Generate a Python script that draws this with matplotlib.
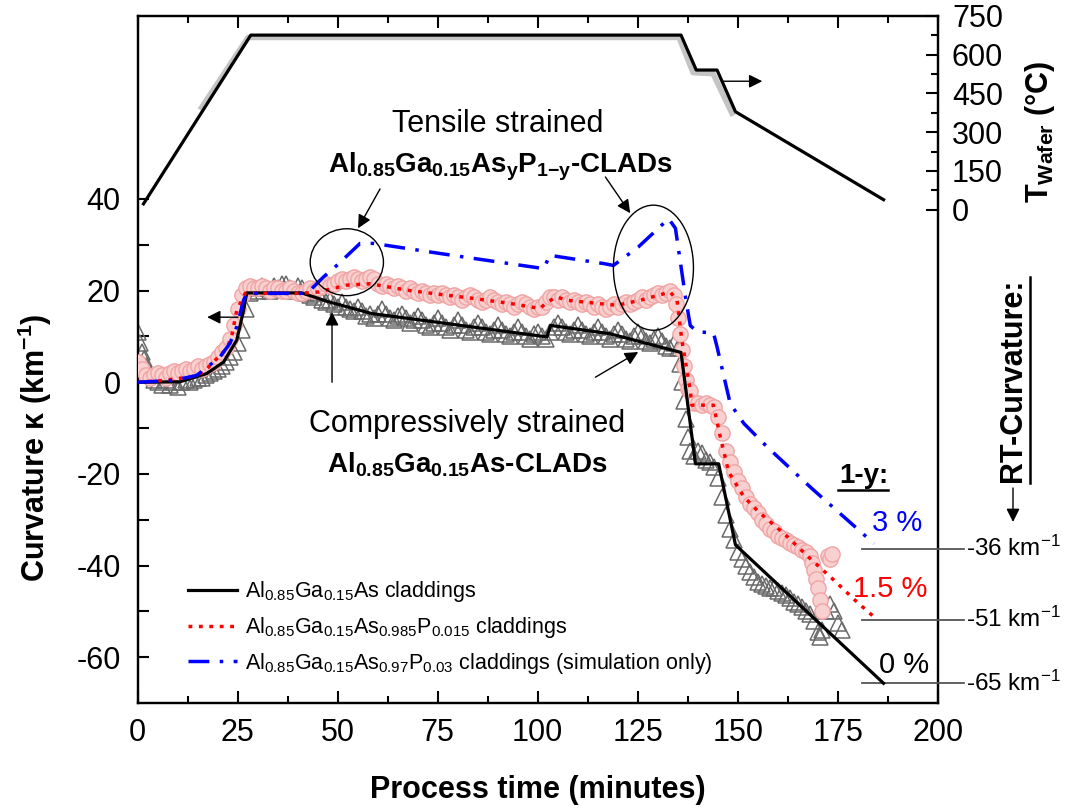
import matplotlib
matplotlib.use('Agg')
import matplotlib.pyplot as plt
from matplotlib.patches import Ellipse
from matplotlib.lines import Line2D
from matplotlib.ticker import MultipleLocator, FixedLocator

plt.rcParams['font.family'] = ['Liberation Sans', 'DejaVu Sans']
plt.rcParams['mathtext.fontset'] = 'custom'
plt.rcParams['mathtext.rm'] = 'Liberation Sans'
plt.rcParams['mathtext.default'] = 'regular'
plt.rcParams['axes.unicode_minus'] = False

# Wafer temperature (right axis): setpoint and measured
temp_t = [1.5, 28.3, 135.8, 139.6, 144.8, 149.4, 186.4]
temp_T = [23, 675, 675, 540, 540, 379, 39]
temp_meas_t = [16, 27.6, 135.3, 138.8, 143.8, 148.5]
temp_meas_T = [395, 666, 666, 530, 526, 373]

# Curvature model, Al0.85Ga0.15As claddings (black)
black_t = [0, 10.6, 17.3, 21.5, 24.8, 26.5, 27.3, 41, 48, 58.5, 102.3, 103.2,
           118, 135.8, 139.4, 145.2, 149.4, 186.4]
black_k = [0, 0.1, 1.9, 4.4, 9.2, 15.7, 19.5, 19.5, 17.5, 15, 9.9, 12.4,
           10.6, 6.5, -17.8, -17.8, -35.5, -65.7]

# Curvature model, 1.5 % P (red dotted)
red_t = [0, 6.5, 13.5, 16.5, 22.3, 23.5, 24.8, 26.9, 40.6, 45.2, 48.5, 52.3, 58.1,
         67.3, 77.3, 83.9, 93.1, 100.6, 102.3, 104.8, 107.3, 113.9, 119.8, 125.6,
         133.1, 134.8, 136, 138.1, 138.5, 143.9, 145.6, 147.7, 151.5, 155.2, 161.5,
         168.1, 174, 179.8, 184]
red_k = [0, 0.4, 1.2, 2.2, 7.4, 9.9, 15.7, 19.4, 19.4, 19.7, 20.4, 21.2, 21.5,
         20.1, 19, 18.3, 17.2, 16.1, 17.5, 18.6, 17.9, 17.3, 16.8, 17.9,
         19.7, 17.9, 9.2, -1.7, -5, -5, -11.9, -19.6, -25, -28.3, -33,
         -38.5, -43.2, -48, -51.2]

# Curvature simulation, 3 % P (blue dash-dot)
blue_t = [0, 9, 14.8, 20.6, 23.1, 24.8, 26.5, 27.3, 41, 43.5, 46.5, 49.8, 55.6, 59,
          75.6, 101.5, 103, 116.5, 118.9, 125.1, 132.7, 134.4, 136.9, 138.1, 139.8,
          143.9, 144.8, 148.1, 151.5, 157.3, 168.5, 184]
blue_k = [0, 0.4, 1.5, 5.5, 8.5, 12.1, 17.9, 19.4, 19.4, 20.4, 23, 25.5, 30.3, 30.3,
          28.1, 24.8, 27.7, 25.9, 25.5, 29.5, 35.7, 33.6, 18.6, 12.4, 11,
          10.8, 7.7, -4.7, -9, -14.1, -23.2, -35.2]

# Measured curvature, AlGaAs claddings (gray triangles)
gray_t = [0, 0.5, 1, 1.5, 2, 3, 4, 5, 6, 7, 8, 9, 10, 11, 12, 13, 14, 15, 16, 17,
          18, 19, 20, 21, 22, 23, 24, 25, 26, 27, 28, 29, 30, 31, 32, 33, 34, 35,
          36, 37, 38, 39, 40, 41, 42, 43, 44, 45, 46, 47, 48, 49, 50, 51, 52, 53,
          54, 55, 56, 57, 58, 59, 60, 61, 62, 63, 64, 65, 66, 67, 68, 69, 70, 71,
          72, 73, 74, 75, 76, 77, 78, 79, 80, 81, 82, 83, 84, 85, 86, 87, 88, 89,
          90, 91, 92, 93, 94, 95, 96, 97, 98, 99, 100, 101, 102, 103, 104, 105,
          106, 107, 108, 109, 110, 111, 112, 113, 114, 115, 116, 117, 118, 119,
          120, 121, 122, 123, 124, 125, 126, 127, 128, 129, 130, 131, 132, 133,
          134, 135, 135.5, 136, 136.5, 137, 137.5, 138, 139, 140, 141, 142, 143,
          144, 145, 146, 147, 148, 149, 150, 151, 152, 153, 154, 155, 156, 157,
          158, 159, 160, 161, 162, 163, 164, 165, 166, 167, 168, 169, 170, 170.5,
          171, 172, 173, 174, 175, 176]
gray_k = [11, 8.5, 6.5, 5, 3.5, 2, 0.5, 0, -0.5, 0.5, -0.5, 0, -1, 0, 0.5, 0, 0.5,
          1, 1, 1.5, 2, 2.5, 3, 3.5, 4.5, 5.5, 6.5, 8.5, 11.5, 16, 19.5, 20.5, 20,
          21, 20.5, 20, 21, 20.5, 21.5, 21.5, 20.5, 20, 21, 20.5, 19.5, 19, 18.5,
          19.5, 18, 17.5, 18, 17, 16.5, 17.5, 16.5, 16, 15.5, 16.5, 15.5, 14.5, 15,
          14, 15, 16, 15, 14, 13.5, 14.5, 15, 14, 13, 13.5, 14.5, 13.5, 12.5, 12,
          13, 14, 13, 12, 11.5, 12.5, 13.5, 12.5, 11.5, 11, 12, 13, 12, 11, 10.5,
          11.5, 12.5, 11.5, 10.5, 10, 11, 12, 11, 10, 9.5, 10.5, 11, 10, 9.5, 11,
          12, 13, 12, 11, 10.5, 11.5, 12.5, 11.5, 10.5, 10, 11, 12, 11, 10, 9.5,
          10.5, 11.5, 10.5, 9.5, 9, 10, 11, 10, 9, 8.5, 9.5, 10, 9, 8, 7.5, 8.5,
          7.5, 4, 0, -4, -8, -12, -15, -16, -15, -15.5, -17, -17.5, -18.5, -21,
          -25, -29, -32, -34.5, -37, -38.5, -40, -41.5, -42.5, -43.5, -44, -44.5,
          -45, -45, -45.5, -46, -46.5, -47, -48, -48.5, -49, -50, -50.5, -52,
          -54.5, -55.5, -54, -50, -48.5, -50, -52.5, -54]

# Measured curvature, AlGaAsP claddings (pink circles)
pink_t = [0, 1, 2, 3, 4, 5, 6, 7, 8, 9, 10, 11, 12, 13, 14, 15, 16, 17, 18, 19,
          20, 21, 22, 23, 24, 25, 26, 27, 28, 29, 30, 31, 32, 33, 34, 35, 36, 37,
          38, 39, 40, 41, 42, 43, 44, 45, 46, 47, 48, 49, 50, 51, 52, 53, 54, 55,
          56, 57, 58, 59, 60, 61, 62, 63, 64, 65, 66, 67, 68, 69, 70, 71, 72, 73,
          74, 75, 76, 77, 78, 79, 80, 81, 82, 83, 84, 85, 86, 87, 88, 89, 90, 91,
          92, 93, 94, 95, 96, 97, 98, 99, 100, 101, 102, 103, 104, 105, 106, 107,
          108, 109, 110, 111, 112, 113, 114, 115, 116, 117, 118, 119, 120, 121,
          122, 123, 124, 125, 126, 127, 128, 129, 130, 131, 132, 133, 134, 134.5,
          135, 135.5, 136, 136.5, 137, 137.5, 138, 139, 140, 141, 142, 143, 144,
          145, 146, 147, 148, 149, 150, 151, 152, 153, 154, 155, 156, 157, 158,
          159, 160, 161, 162, 163, 164, 165, 166, 167, 168, 168.5, 169, 169.5,
          170, 170.5, 171, 172.5, 173, 173.5]
pink_k = [4.5, 3, 1.5, 1, 1.5, 2, 1.5, 1, 2, 2.5, 2, 2.5, 3, 2.5, 3, 3.5, 3, 3.5,
          4, 4.5, 5.5, 6.5, 7.5, 9.5, 12.5, 16, 19, 20.5, 21, 20.5, 20.5, 21,
          20.5, 20, 20.5, 20.5, 20, 20, 20.5, 20, 19.5, 19.5, 20, 20.5, 20, 20.5,
          21, 21.5, 21, 21.5, 22, 22.5, 22, 22.5, 23, 22.5, 22, 22.5, 23, 22.5,
          21.5, 21, 21.5, 21, 20.5, 21, 20.5, 20, 20.5, 20, 19.5, 20, 19.5, 19,
          19.5, 19, 19.5, 19, 18.5, 19, 18.5, 18, 18.5, 19, 18.5, 18, 17.5, 18,
          18.5, 18, 17.5, 17, 17.5, 17, 16.5, 17, 17.5, 17, 16.5, 16, 16.5, 16.5,
          17.5, 18.5, 18.5, 18, 18.5, 18, 17.5, 18, 17.5, 17, 17.5, 17, 16.5, 17,
          16.5, 16, 16.5, 17, 16.5, 17, 17.5, 17, 17.5, 18, 18.5, 18, 18.5, 19,
          19.5, 19, 19.5, 20, 19, 17, 14, 10.5, 7, 3.5, 0.5, -1.5, -2, -4.5, -4.5,
          -5, -4.5, -5, -5.5, -7.5, -11, -15, -17.5, -19.5, -21.5, -23, -25,
          -26.5, -27.5, -28.5, -30, -31, -32, -32.5, -33.5, -34, -34.5, -35,
          -35.5, -36, -36.5, -37, -38, -39.5, -41, -43, -45, -47.5, -50, -38,
          -38.5, -37.5]

# Room-temperature curvature markers
rt_pos = [-36.3, -51.8, -65.6]
rt_labels = ['-36 km$^{-1}$', '-51 km$^{-1}$', '-65 km$^{-1}$']
pct_labels = ['3 %', '1.5 %', '0 %']
pct_colors = ['#0000ff', '#ff0000', 'black']
pct_pos = [(189.9, -30.8), (188.1, -45.2), (191.6, -61.6)]

W, H = 1066, 808
fig = plt.figure(figsize=(W / 100, H / 100), dpi=100)
ax = fig.add_axes([137.5 / W, 1 - 703 / H, 800.5 / W, 687.3 / H])
ax2 = ax.twinx()

ax.plot(gray_t, gray_k, ls='none', marker='^', ms=11, mfc='none', mec='#6a6a6a',
        mew=1.1, zorder=2)
ax.plot(pink_t, pink_k, ls='none', marker='o', ms=11, mfc='#f8d0d0', mec='#f0a4a4',
        mew=1.0, zorder=3)
l1, = ax.plot(black_t, black_k, color='black', lw=2.3, zorder=5)
l2, = ax.plot(red_t, red_k, color='#ff0000', lw=2.5, ls=(0, (1.1, 1.9)), zorder=6)
l3, = ax.plot(blue_t, blue_k, color='#0000ff', lw=2.5, ls=(0, (6, 3, 1, 3)), zorder=7)

ax2.plot(temp_meas_t, temp_meas_T, color='#c4c4c4', lw=4, zorder=1)
ax2.plot(temp_t, temp_T, color='black', lw=2.3, zorder=2)

ax.set_xlim(0, 200)
ax.set_ylim(-70, 80)
ax2.set_ylim(-1906, 750)

for a in (ax, ax2):
    for s in a.spines.values():
        s.set_linewidth(1.6)

ax.xaxis.set_major_locator(MultipleLocator(25))
ax.xaxis.set_minor_locator(MultipleLocator(12.5))
ax.yaxis.set_major_locator(FixedLocator([-60, -40, -20, 0, 20, 40]))
ax.yaxis.set_minor_locator(FixedLocator([-50, -30, -10, 10, 30]))
ax2.yaxis.set_major_locator(FixedLocator([0, 150, 300, 450, 600, 750]))
ax2.yaxis.set_minor_locator(FixedLocator([75, 225, 375, 525, 675]))

ax.tick_params(axis='x', which='both', direction='in', top=True, width=1.5)
ax.tick_params(axis='x', which='major', length=8.5, labelsize=22, pad=11)
ax.tick_params(axis='x', which='minor', length=5)
ax.tick_params(axis='y', which='both', direction='in', right=False, width=1.5,
               length=8)
ax.tick_params(axis='y', which='major', labelsize=22, pad=12)
ax2.tick_params(axis='y', which='both', direction='in', width=1.5)
ax2.tick_params(axis='y', which='major', length=8.5, labelsize=22, pad=10)
ax2.tick_params(axis='y', which='minor', length=5)

ax.set_zorder(ax2.get_zorder() + 1)
ax.patch.set_visible(False)

# axis labels
fig.text(537.75 / W, 1 - 790 / H, 'Process time (minutes)', fontsize=22,
         fontweight='bold', ha='center', va='center')
fig.text(35 / W, 1 - 448 / H, 'Curvature κ (km$^{-1}$)', fontsize=22,
         fontweight='bold', ha='center', va='center', rotation=90)
fig.text(1040 / W, 1 - 132 / H, 'T$_{Wafer}$ (°C)', fontsize=22,
         fontweight='bold', ha='center', va='center', rotation=90)

# annotations
ax.text(90.1, 56.4, 'Tensile strained', fontsize=22, ha='center', va='center')
ax.text(90.6, 47.0, 'Al$_{0.85}$Ga$_{0.15}$As$_{y}$P$_{1{-}y}$-CLADs', fontsize=20,
        fontweight='bold', ha='center', va='center')
ax.text(82.4, -9.2, 'Compressively strained', fontsize=22, ha='center', va='center')
ax.text(82.4, -18.1, 'Al$_{0.85}$Ga$_{0.15}$As-CLADs', fontsize=20,
        fontweight='bold', ha='center', va='center')

ax.add_patch(Ellipse((52.3, 26.2), 18.3, 14.6, fill=False, lw=1, color='black',
                     zorder=8))
ax.add_patch(Ellipse((128.9, 25.0), 20.0, 27.3, fill=False, lw=1, color='black',
                     zorder=8))

arrow = dict(arrowstyle='-|>', color='black', lw=1, mutation_scale=20,
             shrinkA=0, shrinkB=0)
arrows = [((55.1, 33.6), (60.6, 42.2)), ((123.1, 36.9), (116.9, 44.8)),
          ((48.6, 15.3), (48.6, 0)), ((125.1, 6.6), (114.4, 1.1)),
          ((17.4, 14.2), (25.1, 14.2)), ((156.1, 65.7), (146.4, 65.7))]
for tip, tail in arrows:
    ax.annotate('', xy=tip, xytext=tail, arrowprops=arrow, zorder=9)

ax.text(181.4, -20.4, '1-y:', fontsize=20, fontweight='bold', ha='center',
        va='center')
fig.add_artist(Line2D([838 / W, 888 / W], [1 - 490 / H, 1 - 490 / H],
                      color='black', lw=1.8))
for (px, py), lab, c in zip(pct_pos, pct_labels, pct_colors):
    ax.text(px, py, lab, fontsize=21, color=c, ha='center', va='center')

for yv, lab in zip(rt_pos, rt_labels):
    ax.plot([181, 206.4], [yv, yv], color='#555555', lw=1.3, clip_on=False,
            zorder=4)
    ax.text(206.9, yv, lab, fontsize=17.5, ha='left', va='center', clip_on=False)

fig.text(1013 / W, 1 - 380 / H, 'RT-Curvature:', fontsize=22, fontweight='bold',
         rotation=90, ha='center', va='center')
fig.add_artist(Line2D([1030 / W, 1030 / W], [1 - 277 / H, 1 - 483 / H],
                      color='black', lw=1.8))
ax.annotate('', xy=(1013 / W, 1 - 522 / H), xytext=(1013 / W, 1 - 488 / H),
            xycoords='figure fraction', textcoords='figure fraction',
            arrowprops=arrow)

leg = ax.legend([l1, l2, l3],
                ['Al$_{0.85}$Ga$_{0.15}$As claddings',
                 'Al$_{0.85}$Ga$_{0.15}$As$_{0.985}$P$_{0.015}$ claddings',
                 'Al$_{0.85}$Ga$_{0.15}$As$_{0.97}$P$_{0.03}$ claddings (simulation only)'],
                loc='upper left', bbox_to_anchor=(0.063, 0.18), frameon=False,
                fontsize=15.5, handlelength=2.3, handletextpad=0.35,
                labelspacing=0.5, borderpad=0, borderaxespad=0)

fig.savefig('out.png', dpi=100)
